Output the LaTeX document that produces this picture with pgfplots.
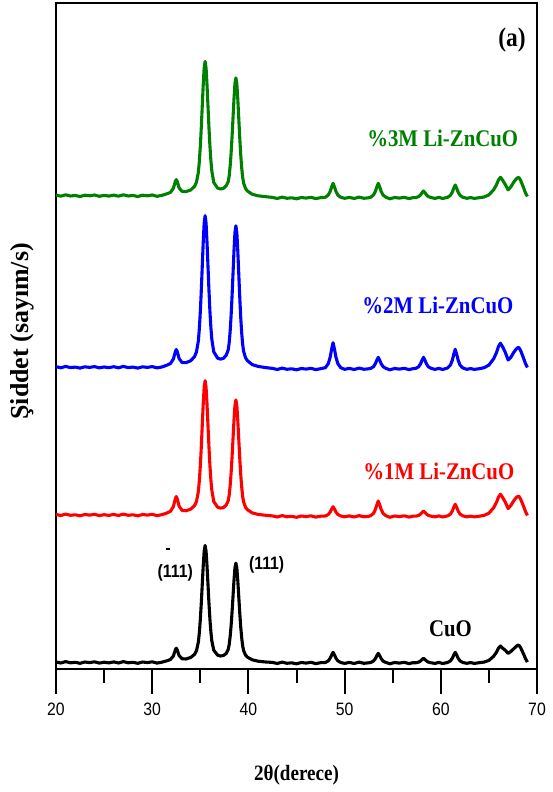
\documentclass[border=0pt]{standalone}
\usepackage{fontspec}
\setmainfont{Liberation Serif}
\newfontfamily\serifn[FakeStretch=0.87]{Liberation Serif}
\newfontfamily\arialn[FakeStretch=0.88]{Liberation Sans}
\usepackage{pgfplots}
\pgfplotsset{compat=1.18}
\definecolor{xgreen}{RGB}{0,128,0}

\begin{document}
\begin{tikzpicture}
\begin{axis}[
  scale only axis, width=481bp, height=666bp,
  xmin=20, xmax=70, ymin=0, ymax=666,
  axis line style={line width=2bp},
  xtick={20,30,...,70}, minor xtick={25,35,...,65},
  xtick pos=bottom, ytick=\empty,
  tick align=outside,
  major tick length=25bp, minor tick length=14bp,
  every tick/.style={black, line width=2bp},
  /pgf/number format/assume math mode=true,
  xticklabel style={font=\arialn\fontsize{18}{18}\selectfont, yshift=-5bp},
  xlabel={2θ(derece)}, ylabel={Şiddet (sayım/s)},
  xlabel style={font=\serifn\bfseries\fontsize{22}{22}\selectfont,
    at={(axis description cs:0.5,-0.159)}, anchor=center},
  ylabel style={font=\bfseries\fontsize{26}{26}\selectfont,
    at={(axis description cs:-0.07,0.507)}, anchor=center},
  every axis plot/.style={line width=3.1bp, line join=round},
]
% CuO
\addplot[black] coordinates {
(20.0,7.1)(20.5,6.0)(21.0,7.4)(21.5,6.2)(22.0,6.7)(22.5,5.7)(23.0,7.0)(23.5,6.4)(24.0,7.2)(24.5,5.9)(25.0,6.8)(25.5,6.1)
(26.0,7.1)(26.5,6.0)(27.0,7.4)(27.5,6.2)(28.0,6.7)(28.5,5.7)(29.0,7.0)(29.5,6.4)(30.0,7.2)(30.5,5.9)(31.0,6.8)
(31.5,8.1)(31.9,9.5)(32.2,13.0)(32.4,18.9)(32.5,20.8)(32.6,19.2)(32.8,13.4)(33.1,10.3)(33.5,10.0)(34.0,11.5)(34.4,14.6)
(34.6,18.2)(34.8,27.0)(34.9,36.3)(35.0,49.1)(35.1,65.3)(35.2,84.0)(35.3,102.5)(35.4,117.7)(35.5,123.6)(35.6,117.8)
(35.7,102.8)(35.8,84.4)(35.9,65.9)(36.0,49.8)(36.1,37.1)(36.2,27.9)(36.4,18.8)(36.8,13.8)(37.1,13.0)(37.4,13.5)(37.7,15.6)
(37.9,19.5)(38.0,24.2)(38.1,32.2)(38.2,42.9)(38.3,56.8)(38.4,72.5)(38.5,88.3)(38.6,101.0)(38.7,105.9)(38.8,101.0)
(38.9,88.0)(39.0,72.1)(39.1,56.3)(39.2,42.3)(39.3,31.5)(39.4,23.5)(39.5,18.5)(39.7,13.9)(39.9,11.8)(40.4,9.2)(41.0,7.8)(41.8,7.0)
(42.5,6.6)(43.0,5.5)(43.5,6.9)(44.0,5.7)(44.5,6.2)(45.0,5.2)(45.5,6.5)(46.0,5.9)(46.5,6.7)(47.0,5.4)(47.5,6.3)
(48.0,6.5)(48.3,8.1)(48.5,10.8)(48.65,14.0)(48.8,16.7)(48.95,14.0)(49.1,10.8)(49.3,8.1)(49.6,6.5)
(50.0,5.6)(50.5,6.6)(51.0,5.5)(51.5,6.9)(52.0,5.7)(52.5,6.2)
(52.7,6.5)(53.0,7.9)(53.2,10.4)(53.35,13.3)(53.5,15.7)(53.65,13.3)(53.8,10.4)(54.0,7.9)(54.3,6.5)
(54.7,5.2)(55.2,6.5)(55.7,5.9)(56.2,6.7)(56.7,5.4)(57.1,6.3)
(57.4,6.2)(57.7,6.9)(57.9,8.1)(58.05,9.5)(58.2,10.7)(58.35,9.5)(58.5,8.1)(58.7,6.9)(59.0,6.2)
(59.4,5.6)(59.8,6.6)(60.2,5.5)
(60.7,6.5)(61.0,8.1)(61.2,10.8)(61.35,14.0)(61.5,16.7)(61.65,14.0)(61.8,10.8)(62.0,8.1)(62.3,6.5)
(62.7,5.7)(63.1,6.4)(63.5,5.6)(64.0,6.3)
(64.5,6.9)(65.0,8.6)(65.5,12.8)(65.8,17.0)(66.0,21.0)(66.2,23.0)(66.4,21.0)(66.7,18.8)(67.0,15.6)(67.3,17.7)
(67.6,20.4)(67.9,23.1)(68.1,24.0)(68.3,21.3)(68.6,15.0)(68.8,10.5)(69.0,6.9)
};
% 1M
\addplot[red] coordinates {
(20.0,154.6)(20.5,153.5)(21.0,154.9)(21.5,153.7)(22.0,154.2)(22.5,153.2)(23.0,154.5)(23.5,153.9)(24.0,154.7)(24.5,153.4)
(25.0,154.3)(25.5,153.6)(26.0,154.6)(26.5,153.5)(27.0,154.9)(27.5,153.7)(28.0,154.2)(28.5,153.2)(29.0,154.5)(29.5,153.9)
(30.0,154.7)(30.5,153.4)(31.0,154.3)
(31.5,155.9)(31.9,157.7)(32.2,162.4)(32.4,170.0)(32.5,172.5)(32.6,170.2)(32.8,162.8)(33.1,158.6)(33.5,158.2)(34.0,159.8)(34.4,163.4)
(34.6,167.4)(34.8,177.5)(34.9,188.2)(35.0,202.8)(35.1,221.4)(35.2,242.8)(35.3,264.1)(35.4,281.6)(35.5,288.3)(35.6,281.7)
(35.7,264.5)(35.8,243.3)(35.9,222.1)(36.0,203.6)(36.1,189.1)(36.2,178.6)(36.4,167.5)(36.8,161.8)(37.1,160.9)(37.4,161.4)(37.7,164.0)
(37.9,168.3)(38.0,173.7)(38.1,183.0)(38.2,195.6)(38.3,211.8)(38.4,230.0)(38.5,248.4)(38.6,263.3)(38.7,269.1)(38.8,263.3)
(38.9,248.1)(39.0,229.6)(39.1,211.2)(39.2,194.9)(39.3,182.2)(39.4,172.9)(39.5,167.1)(39.7,161.7)(39.9,159.3)(40.4,156.1)(41.0,154.6)(41.8,153.7)
(42.5,153.1)(43.0,152.0)(43.5,153.4)(44.0,152.2)(44.5,152.7)(45.0,151.7)(45.5,153.0)(46.0,152.4)(46.5,153.2)(47.0,151.9)(47.5,152.8)
(48.0,153.0)(48.3,154.5)(48.5,156.9)(48.65,159.9)(48.8,162.3)(48.95,159.9)(49.1,156.9)(49.3,154.5)(49.6,153.0)
(50.0,152.2)(50.5,153.1)(51.0,152.0)(51.5,153.4)(52.0,152.2)(52.5,152.7)
(52.7,153.3)(53.0,155.6)(53.2,159.5)(53.35,164.1)(53.5,168.0)(53.65,164.1)(53.8,159.5)(54.0,155.6)(54.3,153.3)
(54.7,151.7)(55.2,153.0)(55.7,152.4)(56.2,153.2)(56.7,151.9)(57.1,152.8)
(57.4,152.8)(57.7,153.6)(57.9,155.0)(58.05,156.6)(58.2,158.0)(58.35,156.6)(58.5,155.0)(58.7,153.6)(59.0,152.8)
(59.4,152.1)(59.8,153.1)(60.2,152.0)
(60.7,153.1)(61.0,154.9)(61.2,158.0)(61.35,161.7)(61.5,164.7)(61.65,161.7)(61.8,158.0)(62.0,154.9)(62.3,153.1)
(62.7,152.2)(63.1,152.9)(63.5,152.1)(64.0,152.8)
(64.5,153.6)(65.0,155.8)(65.5,161.4)(65.8,166.9)(66.0,172.0)(66.2,174.7)(66.4,172.0)(66.7,166.9)(67.0,160.4)(67.3,163.8)
(67.6,168.5)(67.9,172.0)(68.1,173.0)(68.3,169.9)(68.6,162.8)(68.8,157.6)(69.0,153.5)
};
% 2M
\addplot[blue] coordinates {
(20.0,302.3)(20.5,301.2)(21.0,302.6)(21.5,301.4)(22.0,301.9)(22.5,300.9)(23.0,302.2)(23.5,301.6)(24.0,302.4)(24.5,301.1)
(25.0,302.0)(25.5,301.3)(26.0,302.3)(26.5,301.2)(27.0,302.6)(27.5,301.4)(28.0,301.9)(28.5,300.9)(29.0,302.2)(29.5,301.6)
(30.0,302.4)(30.5,301.1)(31.0,302.0)
(31.5,303.7)(31.9,305.5)(32.2,309.9)(32.4,317.1)(32.5,319.5)(32.6,317.4)(32.8,310.4)(33.1,306.5)(33.5,306.3)(34.0,308.2)(34.4,312.4)
(34.6,317.0)(34.8,328.2)(34.9,340.3)(35.0,356.8)(35.1,377.8)(35.2,401.9)(35.3,426.0)(35.4,445.6)(35.5,453.3)(35.6,445.8)
(35.7,426.4)(35.8,402.5)(35.9,378.7)(36.0,357.8)(36.1,341.5)(36.2,329.6)(36.4,317.2)(36.8,310.8)(37.1,309.9)(37.4,310.6)(37.7,313.9)
(37.9,319.1)(38.0,325.9)(38.1,337.3)(38.2,352.8)(38.3,372.7)(38.4,395.2)(38.5,417.8)(38.6,436.1)(38.7,443.2)(38.8,436.1)
(38.9,417.5)(39.0,394.8)(39.1,372.0)(39.2,352.0)(39.3,336.4)(39.4,325.0)(39.5,317.8)(39.7,311.3)(39.9,308.3)(40.4,304.4)(41.0,302.6)(41.8,301.4)
(42.5,300.6)(43.0,299.5)(43.5,300.9)(44.0,299.7)(44.5,300.2)(45.0,299.2)(45.5,300.5)(46.0,299.9)(46.5,300.7)(47.0,299.4)(47.5,300.3)
(48.0,301.3)(48.3,305.3)(48.5,311.8)(48.65,319.7)(48.8,326.3)(48.95,319.7)(49.1,311.8)(49.3,305.3)(49.6,301.3)
(50.0,299.7)(50.5,300.6)(51.0,299.5)(51.5,300.9)(52.0,299.7)(52.5,300.2)
(52.7,300.6)(53.0,302.3)(53.2,305.3)(53.35,308.8)(53.5,311.7)(53.65,308.8)(53.8,305.3)(54.0,302.3)(54.3,300.6)
(54.7,299.2)(55.2,300.5)(55.7,299.9)(56.2,300.7)(56.7,299.4)(57.1,300.3)
(57.4,300.6)(57.7,302.3)(57.9,305.3)(58.05,308.8)(58.2,311.7)(58.35,308.8)(58.5,305.3)(58.7,302.3)(59.0,300.6)
(59.4,299.6)(59.8,300.6)(60.2,299.5)
(60.7,301.0)(61.0,303.9)(61.2,308.9)(61.35,314.8)(61.5,319.7)(61.65,314.8)(61.8,308.9)(62.0,303.9)(62.3,301.0)
(62.7,299.7)(63.1,300.4)(63.5,299.6)(64.0,300.3)
(64.5,301.3)(65.0,303.9)(65.5,310.3)(65.8,316.7)(66.0,322.6)(66.2,325.7)(66.4,322.6)(66.7,316.7)(67.0,309.0)(67.3,311.9)
(67.6,316.9)(67.9,320.6)(68.1,321.7)(68.3,318.4)(68.6,310.9)(68.8,305.4)(69.0,301.5)
};
% 3M
\addplot[xgreen] coordinates {
(20.0,473.9)(20.5,472.8)(21.0,474.2)(21.5,473.0)(22.0,473.5)(22.5,472.5)(23.0,473.8)(23.5,473.2)(24.0,474.0)(24.5,472.7)
(25.0,473.6)(25.5,472.9)(26.0,473.9)(26.5,472.8)(27.0,474.2)(27.5,473.0)(28.0,473.5)(28.5,472.5)(29.0,473.8)(29.5,473.2)
(30.0,474.0)(30.5,472.7)(31.0,473.6)
(31.5,475.1)(31.9,476.6)(32.2,480.7)(32.4,487.3)(32.5,489.4)(32.6,487.5)(32.8,481.1)(33.1,477.6)(33.5,477.4)(34.0,479.0)(34.4,482.6)
(34.6,486.7)(34.8,496.8)(34.9,507.6)(35.0,522.2)(35.1,540.8)(35.2,562.2)(35.3,583.5)(35.4,600.9)(35.5,607.6)(35.6,601.0)
(35.7,583.8)(35.8,562.6)(35.9,541.5)(36.0,523.0)(36.1,508.5)(36.2,497.9)(36.4,486.6)(36.8,480.9)(37.1,480.0)(37.4,480.6)(37.7,483.3)
(37.9,487.2)(38.0,492.8)(38.1,502.4)(38.2,515.3)(38.3,532.0)(38.4,550.8)(38.5,569.8)(38.6,585.2)(38.7,591.1)(38.8,585.2)
(38.9,569.5)(39.0,550.4)(39.1,531.4)(39.2,514.6)(39.3,501.6)(39.4,492.0)(39.5,486.0)(39.7,480.5)(39.9,478.0)(40.4,474.7)(41.0,473.2)(41.8,472.3)
(42.5,471.6)(43.0,470.5)(43.5,471.9)(44.0,470.7)(44.5,471.2)(45.0,470.2)(45.5,471.5)(46.0,470.9)(46.5,471.7)(47.0,470.4)(47.5,471.3)
(48.0,471.7)(48.3,473.9)(48.5,477.6)(48.65,482.0)(48.8,485.7)(48.95,482.0)(49.1,477.6)(49.3,473.9)(49.6,471.7)
(50.0,470.7)(50.5,471.6)(51.0,470.5)(51.5,471.9)(52.0,470.7)(52.5,471.2)
(52.7,471.7)(53.0,473.9)(53.2,477.6)(53.35,482.0)(53.5,485.7)(53.65,482.0)(53.8,477.6)(54.0,473.9)(54.3,471.7)
(54.7,470.2)(55.2,471.5)(55.7,470.9)(56.2,471.7)(56.7,470.4)(57.1,471.3)
(57.4,471.4)(57.7,472.4)(57.9,474.2)(58.05,476.3)(58.2,478.0)(58.35,476.3)(58.5,474.2)(58.7,472.4)(59.0,471.4)
(59.4,470.6)(59.8,471.6)(60.2,470.5)
(60.7,471.7)(61.0,473.6)(61.2,476.9)(61.35,480.8)(61.5,484.0)(61.65,480.8)(61.8,476.9)(62.0,473.6)(62.3,471.7)
(62.7,470.7)(63.1,471.4)(63.5,470.6)(64.0,471.3)
(64.5,472.0)(65.0,474.1)(65.5,479.3)(65.8,484.5)(66.0,489.2)(66.2,491.7)(66.4,489.2)(66.7,484.5)(67.0,479.1)(67.3,482.4)
(67.6,487.1)(67.9,490.7)(68.1,491.7)(68.3,488.6)(68.6,481.4)(68.8,476.2)(69.0,472.5)
};
\node[font=\serifn\bfseries\fontsize{27}{27}\selectfont] at (axis cs:67.4,629) {(a)};
\node[anchor=east, text=xgreen, font=\serifn\bfseries\fontsize{24}{24}\selectfont] at (axis cs:68.4,531) {\%3M Li-ZnCuO};
\node[anchor=east, text=blue, font=\serifn\bfseries\fontsize{24}{24}\selectfont] at (axis cs:67.9,364) {\%2M Li-ZnCuO};
\node[anchor=east, text=red, font=\serifn\bfseries\fontsize{24}{24}\selectfont] at (axis cs:68.0,197.3) {\%1M Li-ZnCuO};
\node[font=\serifn\bfseries\fontsize{24}{24}\selectfont] at (axis cs:61.0,40.7) {CuO};
\node[anchor=base, inner sep=0pt, font=\arialn\bfseries\fontsize{18}{18}\selectfont] at (axis cs:32.4,92) {(\makebox[0pt][l]{\hspace{2.8bp}\smash{\raisebox{27bp}{\rule{4bp}{2.2bp}}}}111)};
\node[anchor=base, inner sep=0pt, font=\arialn\bfseries\fontsize{18}{18}\selectfont] at (axis cs:41.9,100) {(111)};
\end{axis}
\pgfresetboundingbox
\path ([xshift=-56bp,yshift=-123bp]current axis.south west) rectangle ([xshift=16bp,yshift=3bp]current axis.north east);
\end{tikzpicture}
\end{document}
